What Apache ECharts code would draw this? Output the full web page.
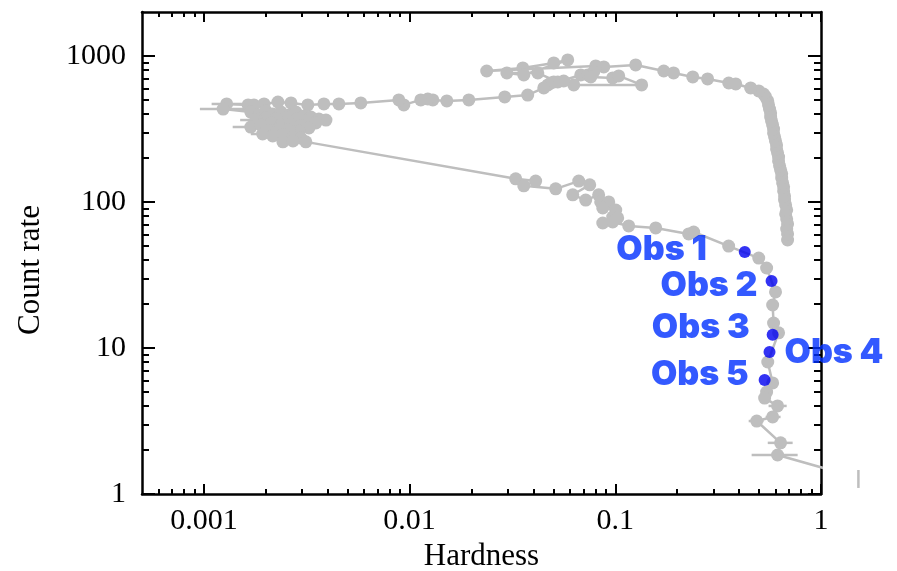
<!DOCTYPE html>
<html><head><meta charset="utf-8">
<script src="https://cdn.jsdelivr.net/npm/echarts@6/dist/echarts.min.js"></script>
<style>html,body{margin:0;padding:0;background:#fff}#c{width:897px;height:571px}</style>
</head><body><div id="c"></div>
<script>
// gray hardness-intensity track (in time order)
const hardness = [
  0.688,0.688,0.681,0.688,0.681,0.673,0.681,0.673,0.665,0.665,0.658,0.658,0.651,0.644,0.644,0.636,0.629,0.622,0.622,0.615,0.608,0.608,0.601,0.595,0.588,0.588,0.582,0.575,0.569,0.569,0.562,0.556,0.551,0.538,0.526,
  0.498,0.455,0.385,0.356,0.281,0.238,0.192,0.172,0.1256,0.0879,0.0803,0.0237,0.0355,0.0502,0.0587,0.0359,0.0297,0.0420,0.0525,0.0679,0.0734,0.0785,0.0760,0.0971,0.1039,0.1343,0.0628,0.0561,0.0502,0.0486,0.0470,0.0449,0.0375,0.0290,0.0194,0.01517,0.01297,0.01226,0.01133,0.00937,0.00886,0.00579,0.00453,0.00383,0.00320,0.00265,0.00229,0.00196,0.00175,0.00164,0.00129,0.00124,
  0.00169,0.00185,0.00200,0.00216,0.00237,0.00259,0.00280,0.00306,0.00331,0.00362,0.00392,0.00350,0.00313,0.00283,0.00250,0.00224,0.00200,0.00179,0.00169,0.00189,0.00212,0.00237,0.00265,0.00296,0.00324,0.00290,0.00259,0.00231,0.00207,0.00193,0.00216,0.00242,0.00271,0.00296,0.00242,0.00271,0.00313,
  0.0328,0.0410,0.0359,0.0513,0.0664,0.0751,0.0621,0.0718,0.0830,0.0849,0.0929,0.0869,0.1005,0.0971,0.1027,0.0869,0.0971,0.1162,0.1572,0.2274,0.2404,0.3556,0.498,0.544,0.601,0.582,0.588,0.622,0.551,0.582,0.544,0.532,0.615,0.582,0.487,0.636,0.615,1.52
];
const countRate = [
  54.9,60.4,65.3,70.7,76.5,82.8,88.2,95.4,103,110,119,127,135,146,156,166,177,191,203,217,231,246,262,279,297,316,337,359,382,407,433,462,492,524,549,
  576,604,643,653,696,718,765,789,868,841,854,789,828,896,939,741,765,765,663,741,741,777,718,707,730,633,633,674,663,653,633,604,540,524,500,492,500,507,500,462,500,477,469,469,462,477,484,469,462,462,469,433,
  413,394,420,401,413,394,413,388,382,370,364,348,359,370,376,370,376,364,326,337,348,337,342,332,321,306,311,316,306,292,283,288,279,274,258,262,258,
  144,139,129,123,139,131,112,103,112,100,100,91,88.1,78.9,77.7,71.8,72.9,68.5,66.4,60.4,62.3,49.9,41.3,35.3,24.2,19.7,14.8,12.7,8.02,5.76,4.99,4.54,4.01,3.37,3.16,2.24,1.85,1.29
];
// horizontal error bars: centre rate, low / high hardness
const errRate     = [433, 469, 364, 326, 292, 1.85, 2.24, 3.16, 3.37, 4.01];
const errHardLow  = [0.000956, 0.00109, 0.00150, 0.00138, 0.00169, 0.460, 0.551, 0.445, 0.538, 0.556];
const errHardHigh = [0.00160, 0.00153, 0.00214, 0.00207, 0.00221, 0.770, 0.728, 0.526, 0.636, 0.681];
// vertical error bar of the point beyond the right edge
const vErrHard = [1.52];
const vErrLow  = [1.10];
const vErrHigh = [1.46];
// highlighted observations
const obsNames    = ['Obs 1', 'Obs 2', 'Obs 3', 'Obs 4', 'Obs 5'];
const obsHardness = [0.426, 0.575, 0.582, 0.562, 0.532];
const obsRate     = [45.5, 28.8, 12.3, 9.39, 6.04];
// ticks
const xMajorTicks = [0.001, 0.01, 0.1, 1];
const xMinorTicks = [0.0006,0.0007,0.0008,0.0009,0.002,0.003,0.004,0.005,0.006,0.007,0.008,0.009,0.02,0.03,0.04,0.05,0.06,0.07,0.08,0.09,0.2,0.3,0.4,0.5,0.6,0.7,0.8,0.9];
const yMajorTicks = [1, 10, 100, 1000];
const yMinorTicks = [2,3,4,5,6,7,8,9,20,30,40,50,60,70,80,90,200,300,400,500,600,700,800,900];

const chart = echarts.init(document.getElementById('c'));
const GRAY = '#bebebe';
const FONT = 'Liberation Serif';
const fmt = v => String(+(+v).toPrecision(6));
const lineSt = {color:'#000', width:2.5};
const tickSt = {color:'#000', width:2};
function ax(extra, min, max) {
  return Object.assign({
    type:'log', logBase:10, min:min, max:max,
    splitLine:{show:false}, axisLine:{show:false, onZero:false},
    axisLabel:{show:false}, axisTick:{show:false}
  }, extra);
}
const XMIN = 0.0005, XMAX = 1, YMIN = 1, YMAX = 2000;

const errData = errRate.map((r, i) => [errHardLow[i], errHardHigh[i], r, r])
  .concat(vErrHard.map((h, i) => [h, h, vErrLow[i], vErrHigh[i]]));

const obsLayout = [
  {position:'left', distance:32, offset:[0,-2]},
  {position:'left', distance:8, offset:[0,5]},
  {position:'left', distance:17, offset:[0,-7]},
  {position:'right', distance:9, offset:[0,1]},
  {position:'left', distance:10, offset:[0,-5]}
];

chart.setOption({
  animation:false,
  backgroundColor:'#fff',
  grid:{left:142, right:76, top:12, bottom:77, outerBoundsMode:'none'},
  xAxis:[
    ax({position:'bottom', name:'Hardness', nameLocation:'middle', nameGap:46,
        nameTextStyle:{fontFamily:FONT, fontSize:31, color:'#000'},
        axisLine:{show:true, onZero:false, lineStyle:lineSt},
        axisTick:{show:true, inside:true, length:10, customValues:xMajorTicks, lineStyle:tickSt},
        axisLabel:{show:true, customValues:xMajorTicks, formatter:fmt, margin:12, fontFamily:FONT, fontSize:30, color:'#000'}}, XMIN, XMAX),
    ax({position:'bottom', axisTick:{show:true, inside:true, length:5, customValues:xMinorTicks, lineStyle:tickSt}}, XMIN, XMAX),
    ax({position:'top', axisLine:{show:true, onZero:false, lineStyle:lineSt},
        axisTick:{show:true, inside:true, length:10, customValues:xMajorTicks, lineStyle:tickSt}}, XMIN, XMAX),
    ax({position:'top', axisTick:{show:true, inside:true, length:5, customValues:xMinorTicks, lineStyle:tickSt}}, XMIN, XMAX)
  ],
  yAxis:[
    ax({position:'left', name:'Count rate', nameLocation:'middle', nameGap:96,
        nameTextStyle:{fontFamily:FONT, fontSize:31, color:'#000', padding:[0,34,0,0]},
        axisLine:{show:true, onZero:false, lineStyle:lineSt},
        axisTick:{show:true, inside:true, length:13, customValues:yMajorTicks, lineStyle:tickSt},
        axisLabel:{show:true, customValues:yMajorTicks, formatter:fmt, margin:16, fontFamily:FONT, fontSize:30, color:'#000'}}, YMIN, YMAX),
    ax({position:'left', axisTick:{show:true, inside:true, length:7, customValues:yMinorTicks, lineStyle:tickSt}}, YMIN, YMAX),
    ax({position:'right', axisLine:{show:true, onZero:false, lineStyle:lineSt},
        axisTick:{show:true, inside:true, length:13, customValues:yMajorTicks, lineStyle:tickSt}}, YMIN, YMAX),
    ax({position:'right', axisTick:{show:true, inside:true, length:7, customValues:yMinorTicks, lineStyle:tickSt}}, YMIN, YMAX)
  ],
  series:[
    {
      type:'custom', xAxisIndex:0, yAxisIndex:0, clip:false, z:1,
      encode:{x:[0,1], y:[2,3]},
      data:errData,
      renderItem:function(params, api){
        const p1 = api.coord([api.value(0), api.value(2)]);
        const p2 = api.coord([api.value(1), api.value(3)]);
        return {type:'line', shape:{x1:p1[0], y1:p1[1], x2:p2[0], y2:p2[1]},
                style:{stroke:GRAY, lineWidth:2.5}};
      }
    },
    {
      type:'line', xAxisIndex:0, yAxisIndex:0, clip:true, z:2,
      data:hardness.map((h, i) => [h, countRate[i]]),
      symbol:'circle', symbolSize:13, showSymbol:true,
      lineStyle:{color:GRAY, width:2.5}, itemStyle:{color:GRAY},
      emphasis:{disabled:true}
    },
    {
      type:'scatter', xAxisIndex:0, yAxisIndex:0, z:3,
      symbol:'circle', symbolSize:12, itemStyle:{color:'#0000f0'},
      data:obsHardness.map((h, i) => ({
        value:[h, obsRate[i]], name:obsNames[i],
        label:Object.assign({show:true, formatter:obsNames[i]}, obsLayout[i])
      })),
      label:{fontFamily:'Inter', fontWeight:900, fontSize:34, color:'#0030ff'},
      emphasis:{disabled:true}
    }
  ]
});
</script></body></html>
